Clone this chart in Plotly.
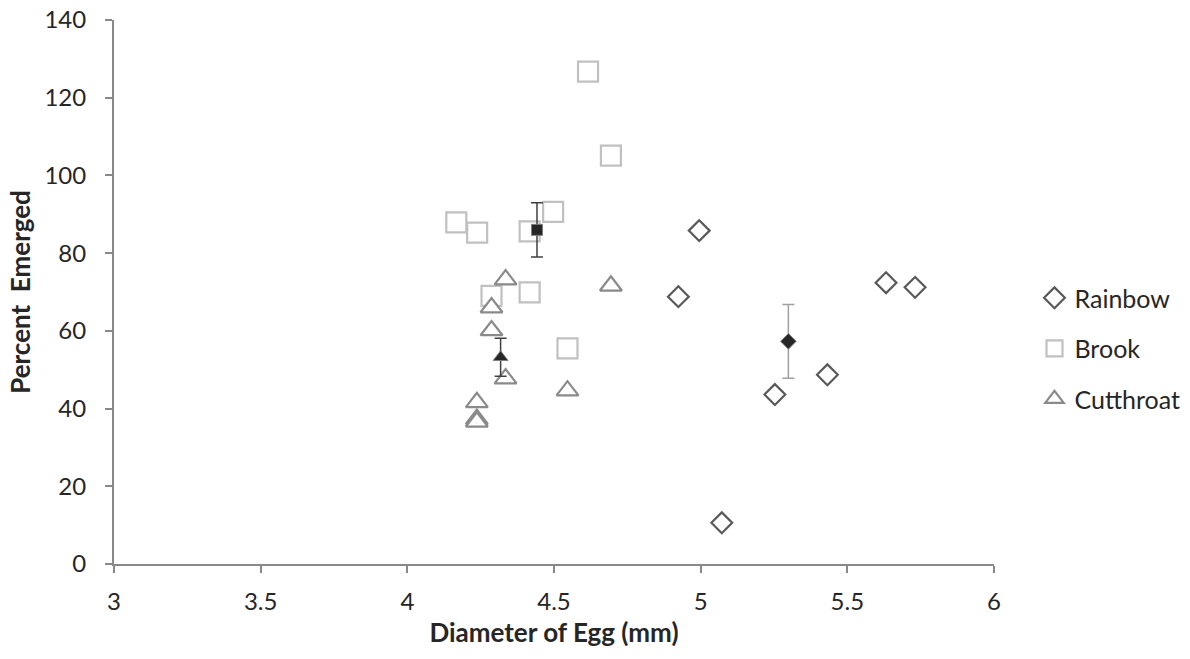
import plotly.graph_objects as go

# ---- data ----
rainbow_x = [4.995, 4.924, 5.632, 5.731, 5.253, 5.432, 5.072]
rainbow_y = [85.8, 68.8, 72.4, 71.2, 43.6, 48.7, 10.6]

brook_x = [4.167, 4.238, 4.417, 4.497, 4.287, 4.417, 4.546, 4.616, 4.694]
brook_y = [87.9, 85.3, 85.6, 90.6, 69.0, 69.9, 55.5, 126.7, 105.1]

cut_x = [4.335, 4.694, 4.287, 4.287, 4.335, 4.546, 4.237, 4.237, 4.237]
cut_y = [73.2, 71.6, 66.0, 60.1, 47.7, 44.6, 41.6, 37.3, 36.6]

# species means with error (±)
mean_x = [5.299, 4.442, 4.318]
mean_y = [57.3, 86.0, 53.2]
mean_err = [9.5, 7.0, 4.9]

series_names = ["Rainbow", "Brook", "Cutthroat"]
x_ticks = [3, 3.5, 4, 4.5, 5, 5.5, 6]
y_ticks = [0, 20, 40, 60, 80, 100, 120, 140]

FONT = "Lato"
TXT = "#262626"
AX = "#898989"

fig = go.Figure()

fig.add_trace(go.Scatter(
    x=rainbow_x, y=rainbow_y, mode="markers", name=series_names[0], legendgroup="a",
    marker=dict(symbol="diamond", size=16, color="white",
                line=dict(color="#595959", width=2.2))))
fig.add_trace(go.Scatter(
    x=brook_x, y=brook_y, mode="markers", name=series_names[1], legendgroup="b",
    marker=dict(symbol="square", size=20, color="white",
                line=dict(color="#c0c0c0", width=2.2))))
fig.add_trace(go.Scatter(
    x=cut_x, y=cut_y, mode="markers", name=series_names[2], legendgroup="c",
    marker=dict(symbol="triangle-up", size=19, color="white",
                line=dict(color="#8a8a8a", width=2.2))))

# mean markers with error bars
mean_symbols = ["diamond", "square", "triangle-up"]
mean_sizes = [12, 11, 13]
err_colors = ["#a0a0a0", "#404040", "#404040"]
for i in range(3):
    fig.add_trace(go.Scatter(
        x=[mean_x[i]], y=[mean_y[i]], mode="markers", showlegend=False,
        error_y=dict(type="data", array=[mean_err[i]], visible=True,
                     color=err_colors[i], thickness=1.5, width=6),
        marker=dict(symbol=mean_symbols[i], size=mean_sizes[i], color="#262626",
                    line=dict(color="#7f7f7f", width=1))))

fig.update_layout(
    width=1190, height=659,
    margin=dict(l=114, r=196, t=20, b=95, autoexpand=False),
    paper_bgcolor="white", plot_bgcolor="white",
    font=dict(family=FONT, size=24, color=TXT),
    showlegend=True,
    legend=dict(x=1.046, y=0.396, xanchor="left", yanchor="middle",
                font=dict(family=FONT, size=25, color=TXT),
                itemsizing="trace", tracegroupgap=15, itemwidth=30,
                bgcolor="rgba(0,0,0,0)"),
)

fig.update_xaxes(
    range=[3, 6], tickvals=x_ticks, ticktext=[str(v) for v in x_ticks],
    showgrid=False, zeroline=False, automargin=False,
    showline=True, linecolor=AX, linewidth=2,
    ticks="outside", ticklen=7, tickcolor=AX, tickwidth=2,
    ticklabelstandoff=8, tickfont=dict(size=24),
    title=dict(text="<b>Diameter of Egg (mm)</b>", font=dict(family=FONT, size=26, color=TXT),
               standoff=10),
)
fig.update_yaxes(
    range=[0, 140], tickvals=y_ticks,
    showgrid=False, zeroline=False, automargin=False,
    showline=True, linecolor=AX, linewidth=2,
    ticks="outside", ticklen=7, tickcolor=AX, tickwidth=2,
    ticklabelstandoff=14, tickfont=dict(size=24),
    title=dict(text="<b>Percent  Emerged</b>", font=dict(family=FONT, size=26, color=TXT),
               standoff=6),
)

fig.write_html("out.html", config={"displayModeBar": False},
               post_script="document.body.style.margin='0';")
